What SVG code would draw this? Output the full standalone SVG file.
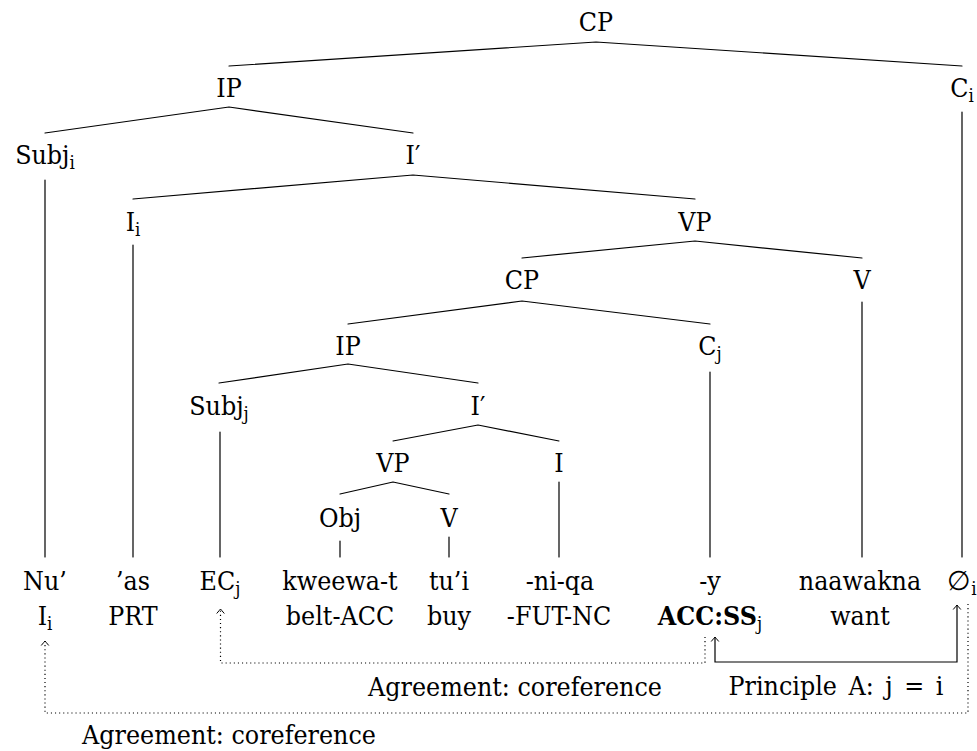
<svg xmlns="http://www.w3.org/2000/svg" width="977" height="751" viewBox="0 0 977 751">
  <style>
    .t { font-size: 26.5px; text-anchor: middle; fill: #000; }
    .s { font-size: 18.5px; }
    .b { font-weight: bold; }
    .edge { stroke: #000; stroke-width: 1.2; fill: none; stroke-linecap: round; }
    .dot { stroke: #000; stroke-width: 1.2; fill: none; stroke-dasharray: 1.1 3; }
    .solid { stroke: #000; stroke-width: 1.2; fill: none; }
  </style>
  <defs>
    <marker id="tip" viewBox="-6 -5 8 10" refX="0" refY="0" markerWidth="8" markerHeight="10" markerUnits="userSpaceOnUse" orient="auto-start-reverse">
      <path d="M-4.5,-3.8 Q-1.2,-1 0,0 Q-1.2,1 -4.5,3.8" fill="none" stroke="#000" stroke-width="1"/>
    </marker>
  </defs>

  <!-- tree branches and leaf stems -->
  <g id="connectors">
    <path class="edge" d="M596,42 L229,66 M596,42 L962,66"/>
    <path class="edge" d="M229,107 L45,133 M229,107 L413,133"/>
    <path class="edge" d="M413,175 L133,199 M413,175 L695,199"/>
    <path class="edge" d="M695,241 L522,258 M695,241 L862,258"/>
    <path class="edge" d="M522,301 L348,324 M522,301 L710,324"/>
    <path class="edge" d="M348,364 L219,383 M348,364 L478,383"/>
    <path class="edge" d="M478,425 L393,441 M478,425 L559,441"/>
    <path class="edge" d="M393,482 L340,494 M393,482 L449,494"/>
    <path class="edge" d="M45,180 V557 M133,245 V557 M962,112 V557 M862,302 V557 M710,372 V557 M220,432 V557 M559,482 V557 M340,541 V557 M449,537 V557"/>
    <!-- binding arrows under the gloss -->
    <path id="agree-inner" class="dot" d="M705,637 V663 H220.5 V609" marker-end="url(#tip)"/>
    <path id="agree-outer" class="dot" d="M968,604 V713 H45 V641" marker-end="url(#tip)"/>
    <path id="principle-a" class="solid" d="M715,637 V662 H957 V605" marker-start="url(#tip)" marker-end="url(#tip)"/>
  </g>

  <g font-family="'DejaVu Serif Condensed', 'DejaVu Serif', serif" font-stretch="condensed">
  <!-- phrase nodes -->
  <g id="n-cp-top"><text class="t" x="596" y="31">CP</text></g>
  <g id="n-ip-top"><text class="t" x="229" y="97">IP</text></g>
  <g id="n-c-i"><text class="t" x="962" y="97">C<tspan class="s" dy="5">i</tspan></text></g>
  <g id="n-subj-i"><text class="t" x="45" y="164">Subj<tspan class="s" dy="5">i</tspan></text></g>
  <g id="n-ibar-top"><text class="t" x="413" y="164">I′</text></g>
  <g id="n-i-i"><text class="t" x="133" y="231">I<tspan class="s" dy="5">i</tspan></text></g>
  <g id="n-vp-top"><text class="t" x="695" y="231">VP</text></g>
  <g id="n-cp-emb"><text class="t" x="522" y="289">CP</text></g>
  <g id="n-v-top"><text class="t" x="862" y="289">V</text></g>
  <g id="n-ip-emb"><text class="t" x="348" y="355">IP</text></g>
  <g id="n-c-j"><text class="t" x="710" y="355">C<tspan class="s" dy="5">j</tspan></text></g>
  <g id="n-subj-j"><text class="t" x="219" y="415">Subj<tspan class="s" dy="5">j</tspan></text></g>
  <g id="n-ibar-emb"><text class="t" x="478" y="415">I′</text></g>
  <g id="n-vp-emb"><text class="t" x="393" y="472">VP</text></g>
  <g id="n-i-emb"><text class="t" x="559" y="472">I</text></g>
  <g id="n-obj"><text class="t" x="340" y="527">Obj</text></g>
  <g id="n-v-emb"><text class="t" x="449" y="527">V</text></g>

  <!-- words with glosses -->
  <g id="w-nu"><text class="t" x="45" y="590">Nu’</text><text class="t" x="45" y="625">I<tspan class="s" dy="5">i</tspan></text></g>
  <g id="w-as"><text class="t" x="133" y="590">’as</text><text class="t" x="133" y="625">PRT</text></g>
  <g id="w-ec"><text class="t" x="220" y="590">EC<tspan class="s" dy="5">j</tspan></text></g>
  <g id="w-kweewat"><text class="t" x="340" y="590">kweewa-t</text><text class="t" x="340" y="625">belt-ACC</text></g>
  <g id="w-tui"><text class="t" x="449" y="590">tu’i</text><text class="t" x="449" y="625">buy</text></g>
  <g id="w-niqa"><text class="t" x="560" y="590">-ni-qa</text><text class="t" x="559" y="625">-FUT-NC</text></g>
  <g id="w-y"><text class="t" x="710" y="590">-y</text><text class="t" x="710" y="625"><tspan class="b">ACC:SS</tspan><tspan class="s" dy="5">j</tspan></text></g>
  <g id="w-naawakna"><text class="t" x="860" y="590">naawakna</text><text class="t" x="860" y="625">want</text></g>
  <g id="w-empty"><text class="t" x="962" y="590">∅<tspan class="s" dy="5">i</tspan></text></g>

  <!-- arrow labels -->
  <g id="lbl-agree-inner"><text class="t" x="515" y="696">Agreement: coreference</text></g>
  <g id="lbl-principle"><text class="t" x="836" y="695" word-spacing="4">Principle A: j = i</text></g>
  <g id="lbl-agree-outer"><text class="t" x="229" y="744">Agreement: coreference</text></g>
  </g>
</svg>
